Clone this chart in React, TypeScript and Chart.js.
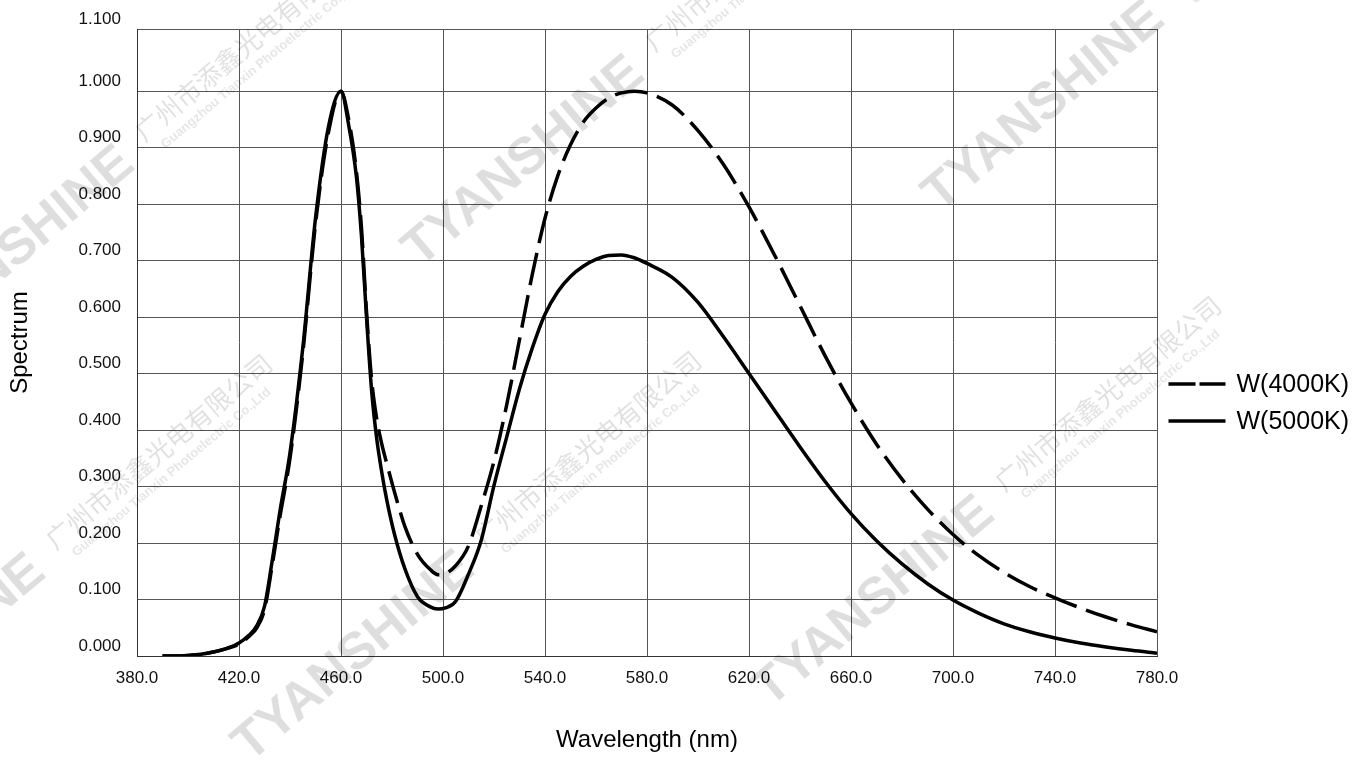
import React, { useEffect, useRef } from 'react';
import { Chart, registerables } from 'chart.js';

Chart.register(...registerables);

// Wavelength samples (nm)
const wavelengths = [
  390, 395, 400, 405, 410, 415, 420, 424, 427, 430, 433, 436, 440, 445, 450, 455, 460,
  463, 466, 468, 470, 472, 474, 476, 478, 481, 485, 490, 495, 498, 501, 505,
  510, 515, 520, 525, 530, 535, 540, 545, 550, 555, 560, 565, 570, 575, 580,
  590, 600, 610, 620, 630, 640, 650, 660, 670, 680, 690, 700, 710, 720, 730, 740, 750, 760, 770, 780,
];

// W(4000K) relative spectrum (dashed)
const w4000 = [
  0, 0, 0.001, 0.003, 0.007, 0.013, 0.021, 0.035, 0.05, 0.082, 0.16, 0.245, 0.35, 0.535, 0.765, 0.925, 1.0,
  0.95, 0.86, 0.76, 0.61, 0.49, 0.42, 0.375, 0.34, 0.29, 0.23, 0.18, 0.153, 0.144, 0.146, 0.16,
  0.195, 0.266, 0.345, 0.445, 0.56, 0.675, 0.775, 0.85, 0.905, 0.945, 0.97, 0.988, 0.997, 1.0, 0.997,
  0.975, 0.93, 0.87, 0.795, 0.71, 0.62, 0.53, 0.448, 0.375, 0.313, 0.26, 0.215, 0.178, 0.148, 0.123, 0.103, 0.085, 0.069, 0.055, 0.043,
];

// W(5000K) relative spectrum (solid)
const w5000 = [
  0, 0, 0.001, 0.003, 0.007, 0.013, 0.023, 0.037, 0.054, 0.088, 0.168, 0.255, 0.36, 0.545, 0.775, 0.935, 1.0,
  0.94, 0.85, 0.745, 0.6, 0.47, 0.385, 0.325, 0.275, 0.215, 0.155, 0.105, 0.087, 0.083, 0.085, 0.097,
  0.145, 0.205, 0.302, 0.388, 0.473, 0.545, 0.605, 0.645, 0.672, 0.69, 0.702, 0.709, 0.71, 0.705, 0.695,
  0.67, 0.626, 0.565, 0.5, 0.435, 0.37, 0.308, 0.252, 0.204, 0.163, 0.128, 0.099, 0.076, 0.057, 0.043, 0.032, 0.023, 0.016, 0.01, 0.005,
];

const seriesLabels = ['W(4000K)', 'W(5000K)'];

const xMin = 380;
const xMax = 780;
const xStep = 40;

const yTickValues = [0, 0.1, 0.2, 0.3, 0.4, 0.5, 0.6, 0.7, 0.8, 0.9, 1.0, 1.11];
const yTickLabels = ['0.000', '0.100', '0.200', '0.300', '0.400', '0.500', '0.600', '0.700', '0.800', '0.900', '1.000', '1.100'];
const yMin = 0;
const yMax = 1.11;

const xTitle = 'Wavelength (nm)';
const yTitle = 'Spectrum';

// Watermark texts
const wmBrand = 'TYANSHINE';
const wmChinese = '广州市添鑫光电有限公司';
const wmEnglish = 'Guangzhou Tianxin Photoelectric Co.,Ltd';

const FONT = '"Liberation Sans", Arial, Helvetica, sans-serif';

const watermark = {
  id: 'watermark',
  beforeDatasetsDraw(chart: any) {
    const { ctx } = chart;
    const angle = (-40 * Math.PI) / 180;
    const anchors = [
      [420, 268], [940, 213], [250, 763], [770, 708], [-90, 358], [-179, 766],
    ];
    anchors.forEach(([x, y]) => {
      ctx.save();
      ctx.translate(x, y);
      ctx.rotate(angle);
      ctx.textBaseline = 'alphabetic';
      ctx.textAlign = 'left';
      ctx.fillStyle = 'rgba(0,0,0,0.13)';
      ctx.font = `bold 52px ${FONT}`;
      ctx.fillText(wmBrand, 0, 0);
      ctx.fillStyle = 'rgba(0,0,0,0.12)';
      ctx.font = `26px "Noto Sans CJK SC", sans-serif`;
      ctx.fillText(wmChinese, 318, -14);
      ctx.fillStyle = 'rgba(0,0,0,0.1)';
      ctx.font = `bold 13px ${FONT}`;
      ctx.fillText(wmEnglish, 330, 4);
      ctx.restore();
    });
  },
};

const sideLegend = {
  id: 'sideLegend',
  afterDraw(chart: any) {
    const { ctx, chartArea } = chart;
    const x0 = chartArea.right + 11.5;
    const lineLen = 57;
    const y0 = chartArea.top + 355;
    const rowGap = 37;
    chart.data.datasets.forEach((ds: any, i: number) => {
      const y = y0 + i * rowGap;
      ctx.save();
      ctx.strokeStyle = ds.borderColor;
      ctx.lineWidth = 3.3;
      ctx.lineCap = 'butt';
      ctx.setLineDash(ds.borderDash && ds.borderDash.length ? [27, 4] : []);
      ctx.beginPath();
      ctx.moveTo(x0, y);
      ctx.lineTo(x0 + lineLen, y);
      ctx.stroke();
      ctx.setLineDash([]);
      ctx.fillStyle = '#000';
      ctx.font = `25px ${FONT}`;
      ctx.textBaseline = 'middle';
      ctx.textAlign = 'left';
      ctx.fillText(ds.label, x0 + lineLen + 11, y + 1);
      ctx.restore();
    });
  },
};

export default function App() {
  const canvasRef = useRef<HTMLCanvasElement | null>(null);

  useEffect(() => {
    if (!canvasRef.current) return;
    const toPoints = (vals: number[]) => wavelengths.map((w, i) => ({ x: w, y: vals[i] }));
    const chart = new Chart(canvasRef.current, {
      type: 'line',
      data: {
        datasets: [
          {
            label: seriesLabels[0],
            data: toPoints(w4000),
            borderColor: '#000',
            borderWidth: 3.5,
            borderDash: [33, 10],
            pointRadius: 0,
            fill: false,
            cubicInterpolationMode: 'monotone',
          },
          {
            label: seriesLabels[1],
            data: toPoints(w5000),
            borderColor: '#000',
            borderWidth: 3.5,
            pointRadius: 0,
            fill: false,
            cubicInterpolationMode: 'monotone',
          },
        ],
      },
      options: {
        animation: false,
        responsive: true,
        maintainAspectRatio: false,
        layout: { padding: { left: 0, right: 209, top: 29, bottom: 0 } },
        plugins: {
          legend: { display: false },
          tooltip: { enabled: false },
        },
        scales: {
          x: {
            type: 'linear',
            min: xMin,
            max: xMax,
            afterFit: (scale: any) => {
              scale.height = 106;
            },
            ticks: {
              stepSize: xStep,
              padding: 12,
              color: '#111',
              font: { family: FONT, size: 17 },
              callback: (v: any) => Number(v).toFixed(1),
              maxRotation: 0,
              autoSkip: false,
            },
            grid: { color: '#555', lineWidth: 1, drawTicks: false },
            border: { color: '#333', width: 1 },
            title: {
              display: true,
              text: xTitle,
              color: '#000',
              font: { family: FONT, size: 24, lineHeight: 1.2 },
              padding: { top: 0, bottom: 7 },
            },
          },
          y: {
            type: 'linear',
            min: yMin,
            max: yMax,
            afterFit: (scale: any) => {
              scale.width = 137;
            },
            afterBuildTicks: (scale: any) => {
              scale.ticks = yTickValues.map((v) => ({ value: v }));
            },
            ticks: {
              padding: 16,
              labelOffset: -10,
              color: '#111',
              font: { family: FONT, size: 17 },
              callback: (_v: any, i: number) => yTickLabels[i],
            },
            grid: { color: '#555', lineWidth: 1, drawTicks: false },
            border: { color: '#333', width: 1 },
            title: {
              display: true,
              text: yTitle,
              color: '#000',
              font: { family: FONT, size: 24, lineHeight: 1.2 },
              padding: { top: 6, bottom: 0 },
            },
          },
        },
      },
      plugins: [watermark, sideLegend],
    } as any);
    return () => chart.destroy();
  }, []);

  return (
    <div style={{ position: 'absolute', left: 0, top: 0, width: 1366, height: 762, background: '#fff' }}>
      <canvas ref={canvasRef} />
    </div>
  );
}
